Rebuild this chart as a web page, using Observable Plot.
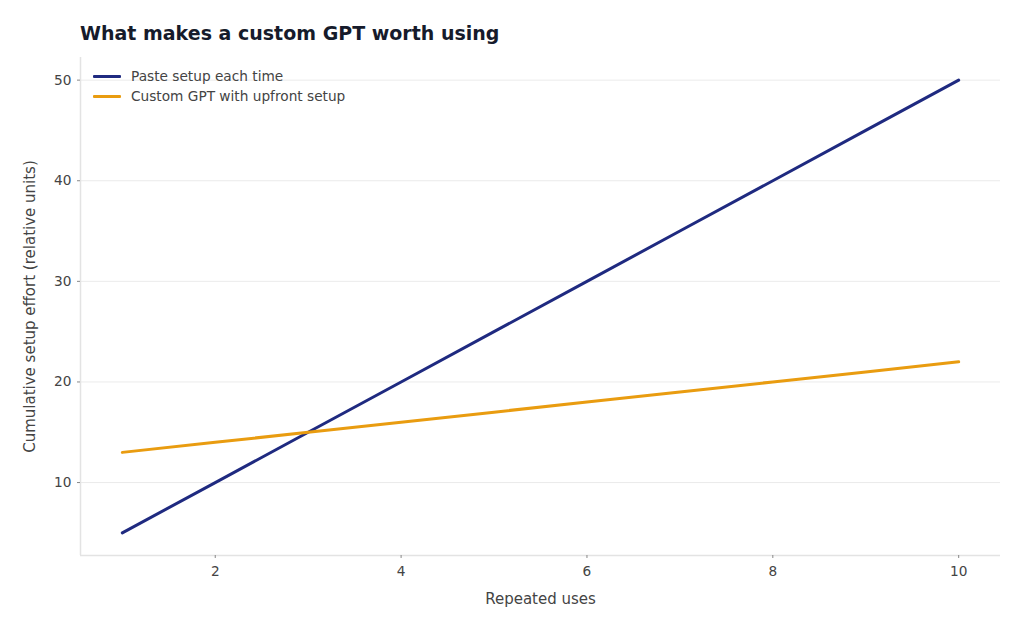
<!DOCTYPE html>
<html>
<head>
<meta charset="utf-8">
<script src="https://cdn.jsdelivr.net/npm/d3@7"></script>
<script src="https://cdn.jsdelivr.net/npm/@observablehq/plot@0.6"></script>
<style>
  body { margin: 0; background: #fff; font-family: "DejaVu Sans", sans-serif; }
  #wrap { position: relative; width: 1024px; height: 631px; }
  #title { box-sizing: border-box; height: 50px; padding: 22px 0 0 80px; font-size: 19px; line-height: 22px; font-weight: bold; color: #161b2b; }
  #legend { position: absolute; left: 93px; top: 66px; font-size: 13.7px; color: #444; }
  .item { display: flex; align-items: center; height: 20px; }
  .sw { width: 28px; height: 3px; margin-right: 10px; border-radius: 1px; }
</style>
</head>
<body>
<div id="wrap">
  <div id="title">What makes a custom GPT worth using</div>
  <div id="chart"></div>
  <div id="legend"></div>
</div>
<script>
const uses = [1, 2, 3, 4, 5, 6, 7, 8, 9, 10];
const pasteEachTime = [5, 10, 15, 20, 25, 30, 35, 40, 45, 50];
const customGPT = [13, 14, 15, 16, 17, 18, 19, 20, 21, 22];
const seriesNames = ["Paste setup each time", "Custom GPT with upfront setup"];
const seriesColors = ["#1f2a80", "#e99c10"];
const yTicks = [10, 20, 30, 40, 50];
const xTicks = [2, 4, 6, 8, 10];

const data = [
  ...uses.map((u, i) => ({uses: u, effort: pasteEachTime[i], series: seriesNames[0]})),
  ...uses.map((u, i) => ({uses: u, effort: customGPT[i], series: seriesNames[1]}))
];

const chart = Plot.plot({
  width: 1024,
  height: 581,
  marginTop: 7,
  marginBottom: 76,
  marginLeft: 80,
  marginRight: 24,
  style: { fontFamily: "DejaVu Sans, sans-serif", fontSize: "14px", color: "#444", background: "#fff" },
  x: { domain: [0.55, 10.45] },
  y: { domain: [2.75, 52.25] },
  color: { domain: seriesNames, range: seriesColors },
  marks: [
    Plot.gridY(yTicks, { stroke: "#ebebeb", strokeOpacity: 1, strokeWidth: 1 }),
    Plot.ruleX([0.55], { stroke: "#e3e3e3", strokeWidth: 1.5 }),
    Plot.ruleY([2.75], { stroke: "#e3e3e3", strokeWidth: 1.5 }),
    Plot.axisY(yTicks, { tickSize: 3, tickPadding: 6, stroke: "#888", label: "Cumulative setup effort (relative units)", labelAnchor: "center", labelArrow: "none", labelOffset: 56, fill: "#444" }),
    Plot.axisX(xTicks, { tickSize: 3, tickPadding: 8, stroke: "#888", label: "Repeated uses", labelAnchor: "center", labelArrow: "none", labelOffset: 48, fill: "#444" }),
    Plot.line(data, { x: "uses", y: "effort", stroke: "series", strokeWidth: 3 })
  ]
});
chart.querySelectorAll("text").forEach(t => {
  const g = t.closest("g[aria-label]");
  const lab = g ? g.getAttribute("aria-label") : "";
  t.style.fontSize = (lab === "y-axis label" || lab === "x-axis label") ? "15px" : "13.7px";
});
document.getElementById("chart").appendChild(chart);

const legend = document.getElementById("legend");
seriesNames.forEach((name, i) => {
  const row = document.createElement("div");
  row.className = "item";
  const sw = document.createElement("div");
  sw.className = "sw";
  sw.style.background = seriesColors[i];
  const lab = document.createElement("span");
  lab.textContent = name;
  row.appendChild(sw);
  row.appendChild(lab);
  legend.appendChild(row);
});
</script>
</body>
</html>
